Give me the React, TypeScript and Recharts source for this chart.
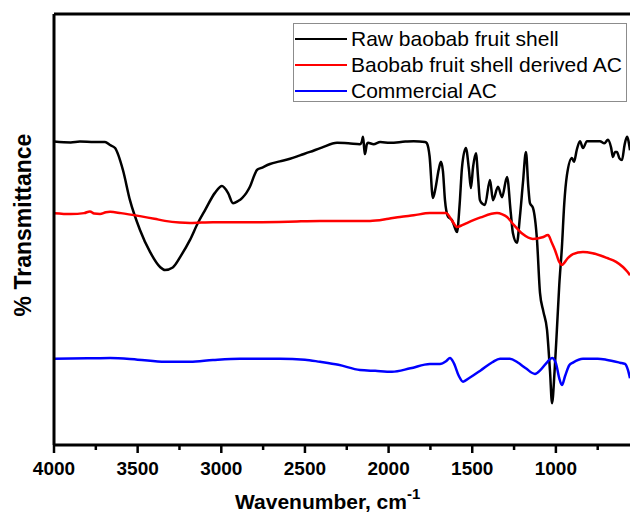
import { Legend, Line, LineChart, ReferenceLine, XAxis, YAxis } from "recharts";

// wavenumber (cm-1) / transmittance pairs (arbitrary offset units)
const rawWave = [
  4000, 3900, 3845, 3760, 3695, 3665, 3635, 3588, 3546, 3486, 3426, 3366, 3337, 3290, 3240, 3187,
  3140, 3097, 3038, 2996, 2960, 2930, 2900, 2876, 2850, 2829, 2800, 2787, 2760, 2709, 2650, 2589,
  2530, 2470, 2400, 2308, 2240, 2171, 2160, 2153, 2145, 2141, 2130, 2123, 2090, 2050, 1992, 1900,
  1850, 1782, 1771, 1755, 1735, 1720, 1700, 1687, 1675, 1663, 1645, 1621, 1600, 1591, 1575, 1561,
  1538, 1520, 1508, 1495, 1478, 1465, 1454, 1440, 1424, 1394, 1376, 1346, 1322, 1292, 1270, 1257,
  1233, 1215, 1197, 1179, 1165, 1155, 1137, 1113, 1095, 1075, 1053, 1035, 1023, 1008, 994, 980,
  964, 950, 934, 904, 892, 875, 856, 838, 814, 780, 737, 710, 689, 670, 659, 647, 635, 620, 605,
  590, 575, 557,
];
const rawT = [
  70.4, 70.2, 70.4, 70.3, 70.3, 69.6, 68.9, 63.8, 56.8, 49.9, 44.8, 41.3, 40.6, 41.2, 44.0, 47.6,
  51.5, 54.5, 58.5, 60.1, 58.5, 56.1, 56.6, 57.3, 58.5, 59.9, 62.8, 63.8, 64.3, 65.2, 65.8, 66.4,
  67.2, 68.0, 69.0, 70.1, 70.0, 69.8, 70.4, 71.5, 68.5, 67.5, 69.8, 70.1, 69.8, 70.3, 70.1, 70.4,
  70.5, 70.3, 70.0, 67.0, 57.3, 59.5, 64.0, 65.7, 63.5, 56.8, 53.0, 52.2, 50.0, 49.4, 56.0, 64.5,
  68.9, 64.0, 59.6, 64.5, 67.7, 62.0, 56.8, 56.0, 55.7, 61.5, 56.8, 59.9, 57.5, 62.2, 54.0, 49.2,
  46.9, 53.0, 60.8, 68.0, 60.0, 56.1, 55.0, 47.6, 35.3, 31.0, 26.7, 17.0, 9.7, 17.0, 26.7, 37.0,
  45.9, 56.0, 62.6, 66.6, 65.7, 68.5, 70.5, 68.9, 70.5, 70.5, 70.5, 70.0, 70.8, 69.0, 66.8, 68.0,
  68.0, 66.5, 66.1, 69.5, 71.5, 68.4,
];

const derivedWave = [
  4000, 3900, 3820, 3785, 3760, 3725, 3690, 3665, 3600, 3486, 3400, 3337, 3250, 3187, 3050, 2829,
  2600, 2410, 2250, 2111, 2000, 1932, 1850, 1753, 1657, 1620, 1591, 1560, 1532, 1450, 1352, 1320,
  1292, 1250, 1200, 1137, 1080, 1047, 1025, 1005, 980, 964, 930, 898, 838, 780, 695, 640, 599, 575,
  557,
];
const derivedT = [
  53.8, 53.6, 53.8, 54.2, 53.7, 53.6, 54.0, 54.1, 53.8, 53.1, 52.5, 52.0, 51.6, 51.5, 51.7, 51.7,
  51.8, 52.0, 52.0, 52.0, 52.5, 52.9, 53.3, 53.8, 53.8, 52.0, 50.6, 51.0, 51.5, 52.8, 53.8, 53.5,
  52.9, 51.0, 49.0, 47.8, 48.2, 48.7, 47.0, 45.2, 42.5, 41.8, 43.3, 44.3, 44.8, 44.5, 43.4, 42.5,
  41.3, 40.3, 39.4,
];

const commercialWave = [
  4000, 3800, 3665, 3500, 3337, 3187, 3050, 2888, 2649, 2500, 2410, 2300, 2171, 2080, 1980, 1870,
  1753, 1693, 1655, 1633, 1610, 1580, 1555, 1520, 1450, 1380, 1334, 1275, 1230, 1180, 1125, 1090,
  1050, 1023, 1000, 980, 964, 945, 920, 898, 838, 750, 700, 617, 587, 570, 557,
];
const commercialT = [
  20.0, 20.1, 20.2, 19.8, 19.3, 19.3, 19.7, 20.0, 20.0, 19.8, 19.3, 18.6, 17.4, 17.2, 17.0, 17.8,
  18.8, 18.8, 19.5, 20.2, 19.0, 16.0, 14.7, 15.5, 17.3, 19.2, 20.0, 20.0, 19.2, 17.8, 16.5, 17.5,
  19.3, 20.2, 19.0, 15.5, 13.9, 16.0, 18.5, 19.1, 20.0, 20.0, 19.8, 19.1, 18.8, 17.5, 15.5,
];

const majorTicks = [4000, 3500, 3000, 2500, 2000, 1500, 1000];
const minorTicks = [3750, 3250, 2750, 2250, 1750, 1250, 750];

const seriesNames = ["Raw baobab fruit shell", "Baobab fruit shell derived AC", "Commercial AC"];

const toPoints = (w: number[], t: number[]) => w.map((wave, i) => ({ wave, t: t[i] }));

const rawData = toPoints(rawWave, rawT);
const derivedData = toPoints(derivedWave, derivedT);
const commercialData = toPoints(commercialWave, commercialT);

const FONT = "'Liberation Sans', Arial, sans-serif";

const WaveTick = (props: any) => {
  const { x, y, payload } = props;
  const major = majorTicks.includes(payload.value);
  return (
    <g>
      <line x1={x} y1={y} x2={x} y2={y + (major ? 8 : 5)} stroke="#000" strokeWidth={2.5} />
      {major && (
        <text
          x={x}
          y={y + 30}
          textAnchor="middle"
          fontFamily={FONT}
          fontWeight="bold"
          fontSize={19}
          fill="#000"
        >
          {payload.value}
        </text>
      )}
    </g>
  );
};

const renderLegend = (props: any) => {
  const items = [...(props.payload || [])].sort(
    (a: any, b: any) => seriesNames.indexOf(a.value) - seriesNames.indexOf(b.value)
  );
  return (
    <div
      style={{
        border: "1px solid #8c8c8c",
        background: "#fff",
        width: 334,
        height: 79,
        boxSizing: "border-box",
        paddingTop: 2,
        fontFamily: FONT,
      }}
    >
      {items.map((entry: any) => (
        <div
          key={entry.value}
          style={{ display: "flex", alignItems: "center", height: 26, fontSize: 21, color: "#000" }}
        >
          <span
            style={{
              display: "inline-block",
              width: 52,
              height: 2,
              background: entry.color,
              marginLeft: 1,
              marginRight: 4,
            }}
          />
          <span style={{ lineHeight: "26px", whiteSpace: "nowrap" }}>{entry.value}</span>
        </div>
      ))}
    </div>
  );
};

export default function App() {
  // pinned to the page corner so the 630x512 canvas never scrolls
  return (
    <div
      style={{
        position: "fixed",
        left: 0,
        top: 0,
        width: 630,
        height: 512,
        overflow: "hidden",
        background: "#fff",
        fontFamily: FONT,
      }}
    >
      <LineChart width={630} height={512} margin={{ top: 14, right: 0, bottom: 0, left: 0 }}>
        <XAxis
          dataKey="wave"
          type="number"
          domain={[557, 4000]}
          reversed
          allowDataOverflow
          ticks={[...majorTicks, ...minorTicks].sort((a, b) => b - a)}
          tick={<WaveTick />}
          tickLine={false}
          tickSize={0}
          tickMargin={0}
          axisLine={{ stroke: "#000", strokeWidth: 3 }}
          height={67}
          interval={0}
        />
        <YAxis
          type="number"
          domain={[0, 100]}
          tick={false}
          tickLine={false}
          axisLine={{ stroke: "#000", strokeWidth: 3 }}
          width={54}
        />
        <ReferenceLine y={100} stroke="#000" strokeWidth={3} />
        <Legend
          layout="vertical"
          align="center"
          verticalAlign="middle"
          content={renderLegend}
          wrapperStyle={{ top: 23, left: 293, width: 334, height: 79 }}
        />
        <Line
          data={rawData}
          dataKey="t"
          name={seriesNames[0]}
          type="monotone"
          stroke="#000000"
          strokeWidth={2.5}
          dot={false}
          isAnimationActive={false}
        />
        <Line
          data={derivedData}
          dataKey="t"
          name={seriesNames[1]}
          type="monotone"
          stroke="#ff0000"
          strokeWidth={2.5}
          dot={false}
          isAnimationActive={false}
        />
        <Line
          data={commercialData}
          dataKey="t"
          name={seriesNames[2]}
          type="monotone"
          stroke="#0000ff"
          strokeWidth={2.5}
          dot={false}
          isAnimationActive={false}
        />
      </LineChart>
      <div
        style={{
          position: "absolute",
          left: 23,
          top: 225,
          transform: "translate(-50%, -50%) rotate(-90deg)",
          fontSize: 23,
          fontWeight: "bold",
          whiteSpace: "nowrap",
          lineHeight: "23px",
        }}
      >
        % Transmittance
      </div>
      <div
        style={{
          position: "absolute",
          left: 235,
          top: 491,
          fontSize: 21,
          fontWeight: "bold",
          whiteSpace: "nowrap",
          lineHeight: "21px",
        }}
      >
        Wavenumber, cm<sup style={{ fontSize: 15, verticalAlign: "top", position: "relative", top: -8 }}>-1</sup>
      </div>
    </div>
  );
}
